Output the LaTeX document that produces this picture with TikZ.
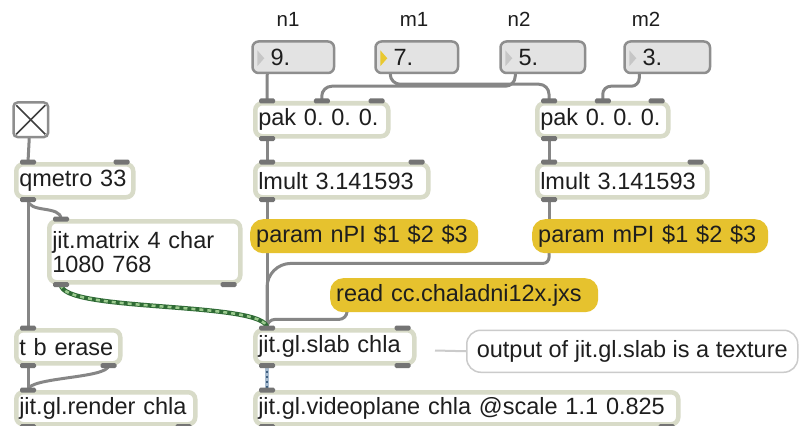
\documentclass[tikz,border=0pt]{standalone}
\usepackage{fontspec}
\setmainfont{Liberation Sans}
\definecolor{objedge}{HTML}{D8DBC8}
\definecolor{portc}{HTML}{747474}
\definecolor{cablec}{HTML}{868686}
\definecolor{msgc}{HTML}{E6C22E}
\definecolor{numfill}{HTML}{E3E3E3}
\definecolor{numedge}{HTML}{8E8E8E}
\definecolor{tric}{HTML}{C6C6C6}
\definecolor{trion}{HTML}{E9C82F}
\definecolor{txt}{HTML}{1E1E1E}
\definecolor{mxdark}{HTML}{2F6B35}
\definecolor{mxlight}{HTML}{9CCB8F}
\definecolor{texbase}{HTML}{A8BCD0}
\definecolor{texdark}{HTML}{3E5F80}
\definecolor{cmtedge}{HTML}{CBCBCB}
\pgfdeclarelayer{paper}
\pgfdeclarelayer{cables}
\pgfsetlayers{paper,cables,main}
\tikzset{
  boxfont/.style={font=\fontsize{23.5}{24}\selectfont\frenchspacing, text=txt},
  obj/.style={boxfont, draw=objedge, line width=4.5pt, fill=white, rounded corners=7pt,
    anchor=north west, inner xsep=3pt, inner ysep=0pt, minimum height=33pt,
    align=left, text width=#1},
  msg/.style={boxfont, fill=msgc, rounded corners=13pt, anchor=north west,
    inner xsep=6pt, inner ysep=0pt, minimum height=34pt, align=left, text width=#1},
  num/.style={boxfont, draw=numedge, fill=numfill, line width=2.5pt, rounded corners=6pt,
    anchor=north west, inner xsep=4pt, inner ysep=0pt, minimum height=31.5pt,
    align=left, text width=#1, execute at begin node={\hspace*{14pt}}},
  tog/.style={draw=numedge, line width=2.5pt, fill=white, rounded corners=4pt,
    minimum size=34.5pt, inner sep=0pt, anchor=north west},
  xline/.style={draw=txt!85, line width=1.6pt},
  cmt/.style={boxfont, draw=cmtedge, line width=1.5pt, fill=white, rounded corners=14pt,
    anchor=north west, inner sep=0pt, minimum height=42pt, minimum width=#1},
  lab/.style={font=\fontsize{20.5}{22}\selectfont, text=txt, anchor=base, inner sep=0pt},
  cable/.style={draw=cablec, line width=3pt, line cap=round},
  mxcable/.style={draw=mxdark, line width=4.5pt,
    postaction={draw=mxlight, line width=2.5pt, dash pattern=on 4pt off 4pt}},
  texcable/.style={draw=texbase, line width=4pt,
    postaction={draw=texdark, line width=2pt, dash pattern=on 2pt off 3pt}},
  pics/port/.style={code={\fill[portc, rounded corners=1.5pt] (-8,-2.5) rectangle (8,2.5);}},
}
\begin{document}
\begin{tikzpicture}[x=1pt, y=-1pt]
\useasboundingbox (0,0) rectangle (799,425);
\begin{pgfonlayer}{paper}
  \fill[white] (0,0) rectangle (799,425);
\end{pgfonlayer}

% ---- labels over the number boxes
\node[lab] (ln1) at (288,27) {n1};
\node[lab] (lm1t) at (414,27) {m1};
\node[lab] (ln2) at (519,27) {n2};
\node[lab] (lm2t) at (646,27) {m2};

% ---- number boxes
\node[num=73.5] (n9) at (251.25,40.25) {9.};
\node[num=74.5] (n7) at (374.25,40.25) {7.};
\node[num=76.5] (n5) at (499.25,40.25) {5.};
\node[num=77.5] (n3) at (623.25,40.25) {3.};
\foreach \b/\c in {n9/tric, n7/trion, n5/tric, n3/tric}
  \fill[\c] ([shift={(6,10)}]\b.north west) -- ++(0,16) -- ++(7,-8) -- cycle;

% ---- toggle
\node[tog] (tog) at (12.25,101.25) {};
\draw[xline] ([shift={(4,4)}]tog.north west) -- ([shift={(-4,-4)}]tog.south east);
\draw[xline] ([shift={(-4,4)}]tog.north east) -- ([shift={(4,-4)}]tog.south west);

% ---- objects
\node[obj=111] (qm) at (14,162) {qmetro 33};
\node[obj=185, minimum height=61pt] (mx) at (47,219) {jit.matrix 4 char\\1080 768};
\node[obj=98] (tbe) at (14,328) {t b erase};
\node[obj=173, minimum height=32pt] (ren) at (14,390) {jit.gl.render chla};
\node[obj=127] (pak1) at (253,101) {pak 0. 0. 0.};
\node[obj=125] (pak2) at (535,101) {pak 0. 0. 0.};
\node[obj=167] (lm1) at (253,162) {lmult 3.141593};
\node[obj=164] (lm2) at (535,162) {lmult 3.141593};
\node[obj=153] (slab) at (253,328) {jit.gl.slab chla};
\node[obj=417, minimum height=32pt] (vp) at (253,390) {jit.gl.videoplane chla @scale 1.1 0.825};

% ---- message boxes
\node[msg=216] (pn) at (250,219) {param nPI \$1 \$2 \$3};
\node[msg=224] (pm) at (532,219) {param mPI \$1 \$2 \$3};
\node[msg=256] (rd) at (330,278) {read cc.chaladni12x.jxs};

% ---- comment
\node[cmt=331] (cm) at (466,329.5) {output of jit.gl.slab is a texture};
\coordinate (tail) at (435,350.5);

% ---- inlet / outlet positions
\coordinate (tog-o) at ([xshift=-1.5pt]tog.south);
\coordinate (n9-o) at ([xshift=16pt]n9.south west);
\coordinate (n7-o) at ([xshift=16pt]n7.south west);
\coordinate (n5-o) at ([xshift=16pt]n5.south west);
\coordinate (n3-o) at ([xshift=16pt]n3.south west);
\coordinate (qm-i1) at ([xshift=14pt]qm.north west);
\coordinate (qm-i2) at ([xshift=-14pt]qm.north east);
\coordinate (qm-o1) at ([xshift=14pt]qm.south west);
\coordinate (mx-i1) at ([xshift=14pt]mx.north west);
\coordinate (mx-o1) at ([xshift=14pt]mx.south west);
\coordinate (mx-o2) at ([xshift=-14pt]mx.south east);
\coordinate (tbe-i1) at ([xshift=14pt]tbe.north west);
\coordinate (tbe-o1) at ([xshift=14pt]tbe.south west);
\coordinate (tbe-o2) at ([xshift=-14pt]tbe.south east);
\coordinate (ren-i1) at ([xshift=14pt]ren.north west);
\coordinate (ren-o1) at ([xshift=14pt]ren.south west);
\coordinate (ren-o2) at ([xshift=-14pt]ren.south east);
\coordinate (pak1-i1) at ([xshift=14pt]pak1.north west);
\coordinate (pak1-i2) at (pak1.north);
\coordinate (pak1-i3) at ([xshift=-14pt]pak1.north east);
\coordinate (pak1-o1) at ([xshift=14pt]pak1.south west);
\coordinate (pak2-i1) at ([xshift=14pt]pak2.north west);
\coordinate (pak2-i2) at (pak2.north);
\coordinate (pak2-i3) at ([xshift=-14pt]pak2.north east);
\coordinate (pak2-o1) at ([xshift=14pt]pak2.south west);
\coordinate (lm1-i1) at ([xshift=14pt]lm1.north west);
\coordinate (lm1-i2) at ([xshift=-14pt]lm1.north east);
\coordinate (lm1-o1) at ([xshift=14pt]lm1.south west);
\coordinate (lm2-i1) at ([xshift=14pt]lm2.north west);
\coordinate (lm2-i2) at ([xshift=-14pt]lm2.north east);
\coordinate (lm2-o1) at ([xshift=14pt]lm2.south west);
\coordinate (slab-i1) at ([xshift=14pt]slab.north west);
\coordinate (slab-i2) at ([xshift=-14pt]slab.north east);
\coordinate (slab-o1) at ([xshift=14pt]slab.south west);
\coordinate (slab-o2) at ([xshift=-14pt]slab.south east);
\coordinate (vp-i1) at ([xshift=14pt]vp.north west);
\coordinate (vp-o1) at ([xshift=14pt]vp.south west);
\coordinate (vp-o2) at ([xshift=-14pt]vp.south east);
\coordinate (pn-i) at ([xshift=17pt]pn.north west);
\coordinate (pn-o) at ([xshift=17pt]pn.south west);
\coordinate (pm-i) at ([xshift=17pt]pm.north west);
\coordinate (pm-o) at ([xshift=17pt]pm.south west);
\coordinate (rd-o) at ([xshift=17pt]rd.south west);

% ---- patch cords, kept under the boxes
\begin{pgfonlayer}{cables}
\draw[cable] (tog-o) -- (qm-i1);
\draw[cable] (qm-o1) -- (tbe-i1);
\draw[cable] (qm-o1) .. controls +(0,14) and +(0,-14) .. (mx-i1);
\draw[cable] (tbe-o1) -- (ren-i1);
\draw[cable] (tbe-o2) .. controls +(0,13) and +(0,-13) .. (ren-i1);
\draw[cable] (n9-o) -- (pak1-i1);
\draw[cable, rounded corners=10pt] (n5-o) -- ++(0,12) -| (pak1-i2);
\draw[cable, rounded corners=10pt] (n7-o) -- ++(0,10) -| (pak2-i1);
\draw[cable, rounded corners=8pt] (n3-o) -- ++(0,12) -| (pak2-i2);
\draw[cable] (pak1-o1) -- (lm1-i1);
\draw[cable] (pak2-o1) -- (lm2-i1);
\draw[cable] (lm1-o1) -- (pn-i);
\draw[cable] (lm2-o1) -- (pm-i);
\draw[cable] (pn-o) -- (slab-i1);
\draw[cable, rounded corners=6pt] (pm-o) -- ++(0,10) [rounded corners=24pt] -| (slab-i1);
\draw[cable, rounded corners=8pt] (rd-o) -- ++(0,7) -| (slab-i1);
\draw[mxcable] (mx-o1) .. controls +(0,28) and +(0,-27) .. (slab-i1);
\draw[texcable] (slab-o1) -- (vp-i1);
\draw[draw=cmtedge, line width=2pt] (tail) -- (cm.west);
\end{pgfonlayer}

% ---- inlets and outlets
\foreach \p in {qm-i1, qm-i2, qm-o1, mx-i1, mx-o1, mx-o2, tbe-i1, tbe-o1, tbe-o2,
    ren-i1, ren-o1, ren-o2, pak1-i1, pak1-i2, pak1-i3, pak1-o1, pak2-i1, pak2-i2,
    pak2-i3, pak2-o1, lm1-i1, lm1-i2, lm1-o1, lm2-i1, lm2-i2, lm2-o1,
    slab-i1, slab-i2, slab-o1, slab-o2, vp-i1, vp-o1, vp-o2}
  \pic at (\p) {port};
\end{tikzpicture}
\end{document}
